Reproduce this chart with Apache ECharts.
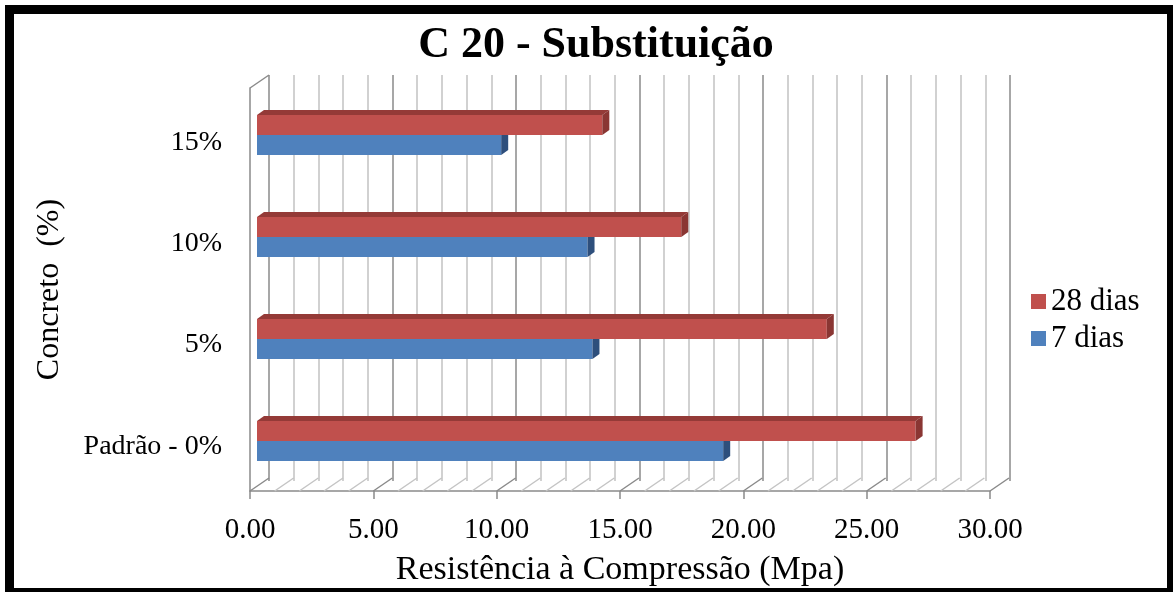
<!DOCTYPE html>
<html>
<head>
<meta charset="utf-8">
<script src="https://cdn.jsdelivr.net/npm/echarts@6/dist/echarts.min.js"></script>
<style>
  html, body { margin: 0; padding: 0; background: #fff; }
  #chart { position: absolute; left: 0; top: 0; width: 1173px; height: 592px; }
  #frame { position: absolute; left: 5px; top: 5px; width: 1168px; height: 587px; box-sizing: border-box;
           border-style: solid; border-color: #000; border-width: 9px 6px 4px 9px; pointer-events: none; }
</style>
</head>
<body>
<div id="chart"></div>
<div id="frame"></div>
<script>
// ---- data ----
const titleText = 'C 20 - Substituição';
const categories = ['Padrão - 0%', '5%', '10%', '15%'];
const dias7 = [18.9, 13.6, 13.4, 9.9];
const dias28 = [26.7, 23.1, 17.2, 14.0];
const seriesNames = ['28 dias', '7 dias'];
const xName = 'Resistência à Compressão (Mpa)';
const yName = 'Concreto  (%)';
const floorTicks = [0,1,2,3,4,5,6,7,8,9,10,11,12,13,14,15,16,17,18,19,20,21,22,23,24,25,26,27,28,29,30];

// ---- styles ----
const FONT = '"Liberation Serif", "Times New Roman", serif';
const RED = '#C0504D', RED_TOP = '#943A37', RED_SIDE = '#8A3633';
const BLUE = '#4F81BD', BLUE_TOP = '#34598A', BLUE_SIDE = '#2E4F7C';
const DEPTH_DX = 19, DEPTH_DY = -13;   // front -> back wall offset
const BAR_DX = 7, BAR_DY = -5;         // bar thickness
const BAR_H = 20;

function barRenderer(isTop, fill, topFill, sideFill) {
  return function (params, api) {
    const v = api.value(0), c = api.value(1);
    const end = api.coord([v, c]);
    const start = api.coord([0, c]);
    const yTop = isTop ? end[1] - BAR_H : end[1];
    const yBot = yTop + BAR_H;
    const x0 = start[0], x1 = end[0];
    return {
      type: 'group',
      children: [
        { type: 'polygon', shape: { points: [[x0, yTop], [x0 + BAR_DX, yTop + BAR_DY], [x1 + BAR_DX, yTop + BAR_DY], [x1, yTop]] }, style: { fill: topFill } },
        { type: 'rect', shape: { x: x0, y: yTop, width: x1 - x0, height: BAR_H }, style: { fill: fill } },
        { type: 'polygon', shape: { points: [[x1, yTop], [x1 + BAR_DX, yTop + BAR_DY], [x1 + BAR_DX, yBot + BAR_DY], [x1, yBot]] }, style: { fill: sideFill } }
      ]
    };
  };
}

function floorRenderer(params, api) {
  const v = api.value(0);
  const cs = params.coordSys;
  const x = api.coord([v, 0])[0];
  const bottom = cs.y + cs.height;
  const major = v % 5 === 0;
  const children = [
    { type: 'line', shape: { x1: x, y1: bottom, x2: x + DEPTH_DX, y2: bottom + DEPTH_DY },
      style: { stroke: major ? '#8a8a8a' : '#c4c4c4', lineWidth: 1.5 } }
  ];
  if (v === 0) {
    children.push({ type: 'line', shape: { x1: x, y1: cs.y, x2: x + DEPTH_DX, y2: cs.y + DEPTH_DY },
      style: { stroke: '#8a8a8a', lineWidth: 1.5 } });
  }
  return { type: 'group', children: children };
}

const chart = echarts.init(document.getElementById('chart'), null, { renderer: 'canvas' });
chart.setOption({
  animation: false,
  backgroundColor: '#fff',
  title: {
    text: titleText, left: 591, top: 19, textAlign: 'center',
    textStyle: { fontFamily: FONT, fontWeight: 'bold', fontSize: 44, color: '#000' }
  },
  legend: {
    orient: 'vertical', left: 1026, top: 281, itemGap: 6, itemWidth: 15, itemHeight: 15,
    icon: 'rect', data: seriesNames,
    textStyle: { fontFamily: FONT, fontSize: 31, color: '#000', lineHeight: 30 }
  },
  grid: [
    { left: 250, top: 88, width: 740, height: 406 },        // front plane (axes)
    { left: 269, top: 75, width: 741, height: 406 },        // back wall
    { left: 257, top: 84, width: 740, height: 408 },        // bar plane
    { left: 250, top: 92, width: 740, height: 405 }         // category label band
  ],
  xAxis: [
    { gridIndex: 0, type: 'value', min: 0, max: 30, interval: 5,
      axisLine: { show: true, lineStyle: { color: '#8a8a8a', width: 1.5 } },
      axisTick: { show: true, length: 8, lineStyle: { color: '#8a8a8a', width: 1.5 } },
      splitLine: { show: false },
      axisLabel: { margin: 25, fontFamily: FONT, fontSize: 29, color: '#000', formatter: v => v.toFixed(2) },
      name: xName, nameLocation: 'middle', nameGap: 62,
      nameTextStyle: { fontFamily: FONT, fontSize: 34, color: '#000' } },
    { gridIndex: 1, type: 'value', min: 0, max: 30, interval: 5,
      axisLine: { show: false }, axisTick: { show: false }, axisLabel: { show: false },
      splitLine: { show: true, lineStyle: { color: '#8a8a8a', width: 1.5 } },
      minorTick: { show: false, splitNumber: 5 },
      minorSplitLine: { show: true, lineStyle: { color: '#c2c2c2', width: 1.5 } } },
    { gridIndex: 2, type: 'value', min: 0, max: 30, show: false, splitLine: { show: false } },
    { gridIndex: 3, type: 'value', min: 0, max: 30, show: false, splitLine: { show: false } }
  ],
  yAxis: [
    { gridIndex: 0, type: 'category', data: categories,
      axisLine: { show: true, lineStyle: { color: '#8a8a8a', width: 1.5 } },
      axisTick: { show: false }, splitLine: { show: false }, axisLabel: { show: false },
      name: yName, nameLocation: 'middle', nameGap: 184,
      nameTextStyle: { fontFamily: FONT, fontSize: 32, color: '#000' } },
    { gridIndex: 1, type: 'category', data: categories, show: false, splitLine: { show: false } },
    { gridIndex: 2, type: 'category', data: categories, show: false, splitLine: { show: false } },
    { gridIndex: 3, type: 'category', data: categories,
      axisLine: { show: false }, axisTick: { show: false }, splitLine: { show: false },
      axisLabel: { margin: 28, fontFamily: FONT, fontSize: 28, color: '#000' } }
  ],
  series: [
    { type: 'custom', name: 'floor', xAxisIndex: 0, yAxisIndex: 0, silent: true, z: 1,
      data: floorTicks.map(v => [v, 0]), encode: { x: 0, y: 1 }, renderItem: floorRenderer },
    { type: 'custom', name: seriesNames[1], xAxisIndex: 2, yAxisIndex: 2, z: 3,
      itemStyle: { color: BLUE },
      data: dias7.map((v, i) => [v, i]), encode: { x: 0, y: 1 },
      renderItem: barRenderer(false, BLUE, BLUE_TOP, BLUE_SIDE) },
    { type: 'custom', name: seriesNames[0], xAxisIndex: 2, yAxisIndex: 2, z: 4,
      itemStyle: { color: RED },
      data: dias28.map((v, i) => [v, i]), encode: { x: 0, y: 1 },
      renderItem: barRenderer(true, RED, RED_TOP, RED_SIDE) }
  ]
});
</script>
</body>
</html>
